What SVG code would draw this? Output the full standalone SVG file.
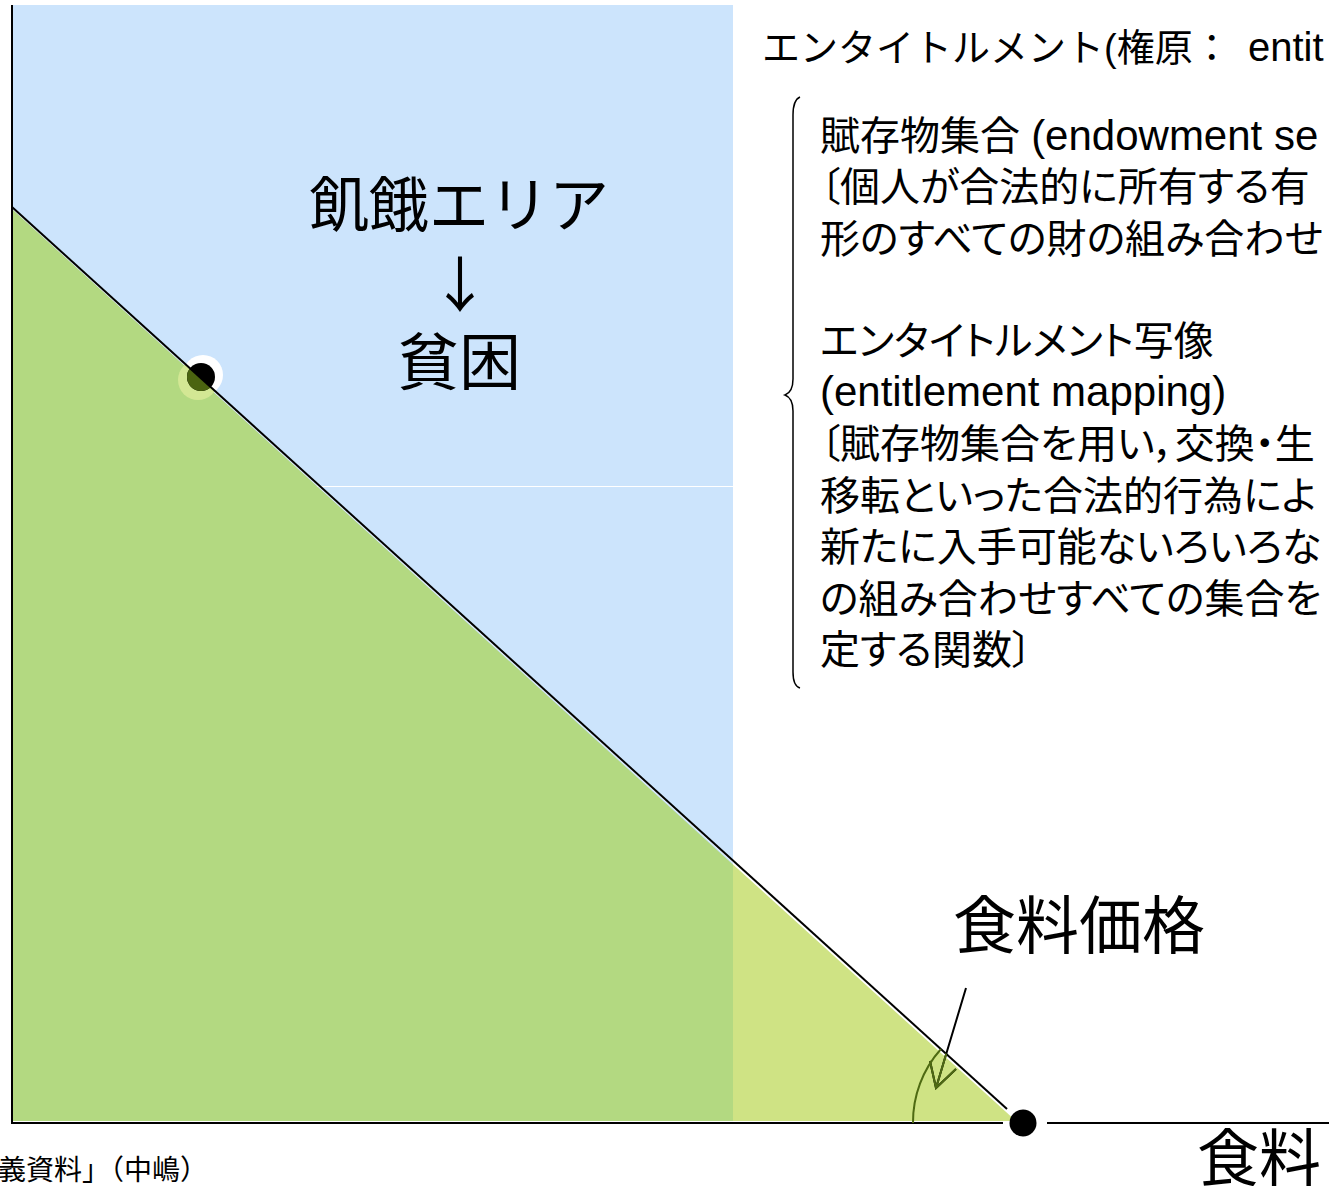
<svg xmlns="http://www.w3.org/2000/svg" width="1329" height="1186" viewBox="0 0 1329 1186">
<defs>
<style>
.t{font-family:"Liberation Sans","Noto Sans CJK JP",sans-serif;fill:#000}
.big{font-family:"Noto Sans CJK JP",sans-serif;font-size:60px;text-anchor:middle;fill:#000}
.body{font-size:40px;font-feature-settings:"palt"}
.lat{font-size:42px}
.ax{stroke:#000;stroke-width:2;fill:none}
</style>
<clipPath id="below"><polygon points="0,196 1100,1193 0,1193"/></clipPath>
</defs>
<rect width="1329" height="1186" fill="#fff"/>
<g id="areas">
<rect x="12" y="5" width="721" height="481" fill="#CCE4FC"/>
<rect x="12" y="487" width="721" height="634" fill="#CCE4FC"/>
<polygon points="12,209 733,864.4 733,1121 12,1121" fill="#B3D981"/>
<polygon points="733,864.4 1016,1121 733,1121" fill="#CFE384"/>
<line x1="14" y1="209.8" x2="1010" y2="1113" stroke="#fff" stroke-width="1.2"/>
</g>
<g id="point">
<circle cx="203" cy="375" r="20" fill="#fff"/>
<g clip-path="url(#below)">
<circle cx="203" cy="375" r="20" fill="#D3E794"/>
<circle cx="198" cy="380" r="20" fill="#D3E794"/>
</g>
<circle cx="201" cy="377" r="14" fill="#000"/>
<circle cx="201" cy="377" r="14" fill="#4B6410" clip-path="url(#below)"/>
</g>
<g id="connectors">
<line class="ax" x1="12" y1="5" x2="12" y2="1124"/>
<line class="ax" x1="11" y1="1123" x2="1003" y2="1123"/>
<line class="ax" x1="1047" y1="1123" x2="1329" y2="1123"/>
<line x1="12" y1="207" x2="1007" y2="1109" stroke="#000" stroke-width="2"/>
<g id="angle" fill="none" stroke-width="2">
<path d="M966,988 L936,1088 M930,1061 L936,1088 L956,1069" stroke="#000"/>
<g clip-path="url(#below)" stroke="#4E6A12">
<path d="M966,988 L936,1088 M930,1061 L936,1088 L956,1069"/>
<path d="M913,1123 A109.5,109.5 0 0 1 941,1049"/>
</g>
</g>
<path id="brace" d="M800,97 Q793,100 793,115 L793,379 Q793,392 785,395 Q793,398 793,411 L793,672 Q793,686 800,688" fill="none" stroke="#000" stroke-width="1.5"/>
</g>
<circle id="origin-dot" cx="1023" cy="1123" r="13.5" fill="#000"/>
<g id="labels">
<text class="big" x="459" y="227">飢餓エリア</text>
<text class="big" x="460" y="307">↓</text>
<text class="big" x="459" y="385" style="font-size:62px">貧困</text>
<text class="big" x="1079" y="948" style="font-size:63px">食料価格</text>
<text class="big" x="1259" y="1181" style="font-size:62px">食料</text>
<text class="t" x="-2" y="1180" style="font-size:28px">義資料」（中嶋）</text>
</g>
<g id="entitlement">
<text class="t" x="762" y="61" style="font-size:38px">エンタイトルメント(権原：<tspan x="1248" style="font-size:40px">entit</tspan></text>
<text class="t body" x="820"><tspan x="820" y="150">賦存物集合  <tspan class="lat">(endowment se</tspan></tspan><tspan x="820" y="201">〔個人が合法的に所有する有</tspan><tspan x="820" y="253">形のすべての財の組み合わせ</tspan><tspan x="820" y="355">エンタイトルメント写像</tspan><tspan x="820" y="406" class="lat">(entitlement mapping)</tspan><tspan x="820" y="458">〔賦存物集合を用い，交換・生</tspan><tspan x="820" y="510">移転といった合法的行為によ</tspan><tspan x="820" y="561">新たに入手可能ないろいろな</tspan><tspan x="820" y="613">の組み合わせすべての集合を</tspan><tspan x="820" y="664">定する関数〕</tspan></text>
</g>
</svg>
